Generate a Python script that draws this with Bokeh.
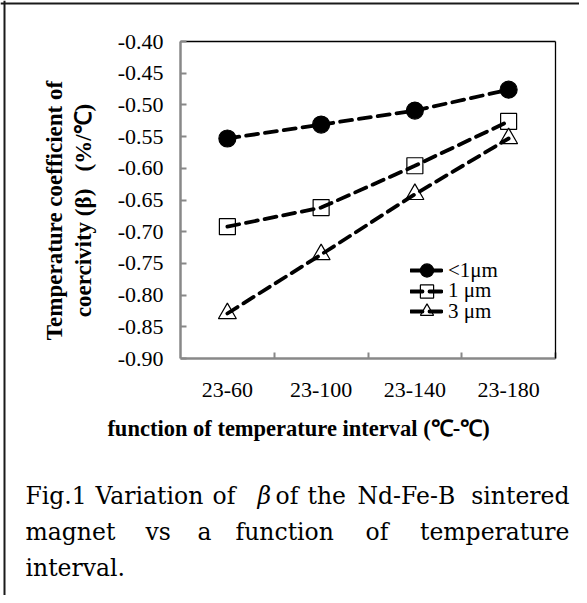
from bokeh.plotting import figure
from bokeh.models import (Range1d, FixedTicker, NumeralTickFormatter, Label,
                          Span, Legend, LinearAxis)
from bokeh.embed import file_html
from bokeh.resources import INLINE
import math

# ---- data ----
categories = ["23-60", "23-100", "23-140", "23-180"]
beta_lt1um = [-0.553, -0.531, -0.509, -0.476]
beta_1um = [-0.692, -0.662, -0.596, -0.526]
beta_3um = [-0.829, -0.736, -0.641, -0.553]
series_names = ["<1μm", "1 μm", "3 μm"]
y_ticks = [-0.90, -0.85, -0.80, -0.75, -0.70, -0.65, -0.60, -0.55, -0.50, -0.45, -0.40]

y_title_1 = "Temperature coefficient of"
y_title_2 = "coercivity (β)\u00a0\u00a0 (%/℃)"
x_title = "function of temperature interval (℃-℃)"

xs = [i + 0.5 for i in range(len(categories))]
Y_MIN, Y_MAX = y_ticks[0], y_ticks[-1]
N = len(categories)

SERIF = "Liberation Serif"
CAP = "DejaVu Serif"

# ---- layout geometry (page pixels) ----
W, H = 579, 595          # canvas; page offset 8px
PL, PR, PT, PB = 188, 563, 49, 366   # plot-area edges in page pixels
kx = (PR - PL) / N
ky = (PB - PT) / (Y_MAX - Y_MIN)
x0 = -(PL - 8) / kx
x1 = x0 + W / kx
y1 = Y_MAX + (PT - 8) / ky
y0 = y1 - H / ky

p = figure(width=W, height=H, x_range=Range1d(x0, x1), y_range=Range1d(y0, y1),
           output_backend="svg", toolbar_location=None,
           x_axis_location=None, y_axis_location=None, min_border=0)
p.background_fill_color = "white"
p.border_fill_color = "white"
p.outline_line_color = None
p.grid.visible = False

GRAY = "#888888"

# outer frame (left and top edges)
fl = x0 + (12 - 8) / kx
ft = y1 - (11 - 8) / ky
p.add_layout(Span(location=fl, dimension="height", line_color="#1a1a1a",
                  line_width=2))
p.add_layout(Span(location=ft, dimension="width", line_color="#1a1a1a",
                  line_width=2))

# left value axis
ya = LinearAxis(fixed_location=0, bounds=(Y_MIN, Y_MAX),
                ticker=FixedTicker(ticks=y_ticks),
                formatter=NumeralTickFormatter(format="0.00"))
ya.axis_line_color = GRAY
ya.axis_line_width = 2.5
ya.major_tick_line_color = GRAY
ya.major_tick_line_width = 2
ya.major_tick_in = 6
ya.major_tick_out = 0
ya.minor_tick_line_color = None
ya.major_label_text_font = SERIF
ya.major_label_text_font_size = "22px"
ya.major_label_text_color = "black"
ya.major_label_standoff = 17
p.add_layout(ya, "left")

# bottom category axis
xa = LinearAxis(fixed_location=Y_MIN, bounds=(0, N),
                ticker=FixedTicker(ticks=xs, minor_ticks=list(range(1, N + 1))))
xa.major_label_overrides = {x: c for x, c in zip(xs, categories)}
xa.axis_line_color = GRAY
xa.axis_line_width = 2.5
xa.major_tick_line_color = None
xa.minor_tick_line_color = GRAY
xa.minor_tick_line_width = 2
xa.minor_tick_in = 6
xa.minor_tick_out = 0
xa.major_label_text_font = SERIF
xa.major_label_text_font_size = "22px"
xa.major_label_text_color = "black"
xa.major_label_standoff = 18
p.add_layout(xa, "below")

# top and right borders of the plot area
ta = LinearAxis(fixed_location=Y_MAX, bounds=(0, N), ticker=FixedTicker(ticks=[]))
ra = LinearAxis(fixed_location=N, bounds=(Y_MIN, Y_MAX), ticker=FixedTicker(ticks=[]))
for ax in (ta, ra):
    ax.axis_line_color = "black"
    ax.axis_line_width = 1.3
    ax.major_tick_line_color = None
    ax.minor_tick_line_color = None
p.add_layout(ta, "above")
p.add_layout(ra, "right")

dash = "12 7"
items = []
specs = [
    (beta_lt1um, "circle", "black", 17),
    (beta_1um, "square", "white", 16),
    (beta_3um, "triangle", "white", 18),
]
for name, (vals, marker, fill, size) in zip(series_names, specs):
    s = p.scatter(xs, vals, marker=marker, size=size, fill_color=fill,
                  line_color="black", line_width=1.2)
    l = p.line(xs, vals, line_color="black", line_width=3.8, line_dash=dash,
               line_cap="round")
    items.append((name, [s, l]))

# screen (frame = whole canvas): page (X, Y) -> (X-8, 603-Y)
def sx(X):
    return X - 8

def sy(Y):
    return 603 - Y

# one legend per entry so that the rows can sit close together
GH = 34
for (name, rends), cy_ in zip(items, (278, 298.5, 319)):
    lg = Legend(items=[(name, rends)], location=(sx(418), sy(cy_ + GH / 2)))
    lg.glyph_width = 33
    lg.glyph_height = GH
    lg.label_height = 18
    lg.padding = 0
    lg.margin = 0
    lg.label_standoff = 5
    lg.border_line_color = None
    lg.background_fill_alpha = 0
    lg.label_text_font = SERIF
    lg.label_text_font_size = "21px"
    lg.label_text_color = "black"
    p.add_layout(lg, "center")

for txt, X in ((y_title_1, 62), (y_title_2, 91)):
    p.add_layout(Label(x=sx(X), y=sy(218), x_units="screen", y_units="screen",
                       text=txt, angle=math.pi / 2, text_align="center",
                       text_baseline="middle", text_font=SERIF,
                       text_font_size="23px", text_font_style="bold",
                       text_color="black"))
p.add_layout(Label(x=sx(306), y=sy(436), x_units="screen", y_units="screen",
                   text=x_title, text_align="center", text_baseline="middle",
                   text_font=SERIF, text_font_size="22.5px", text_font_style="bold",
                   text_color="black"))

caption_lines = [
    (503, [("Fig.1", 33), ("Variation", 103), ("of", 220), ("β", 265), ("of", 283),
           ("the", 315), ("Nd-Fe-B", 365), ("sintered", 577)]),
    (539, [("magnet", 33), ("vs", 153), ("a", 205), ("function", 243), ("of", 373),
           ("temperature", 577)]),
    (575, [("interval.", 33)]),
]
for base, words in caption_lines:
    n = len(words)
    for k, (w, wx) in enumerate(words):
        align = "right" if (k == n - 1 and n > 1) else "left"
        p.add_layout(Label(x=sx(wx), y=sy(base), x_units="screen", y_units="screen",
                           text=w, text_align=align, text_baseline="alphabetic",
                           text_font=CAP, text_font_size="23.5px",
                           text_font_style="italic" if w == "β" else "normal",
                           text_color="black"))

open("out.html", "w").write(file_html(p, INLINE))
